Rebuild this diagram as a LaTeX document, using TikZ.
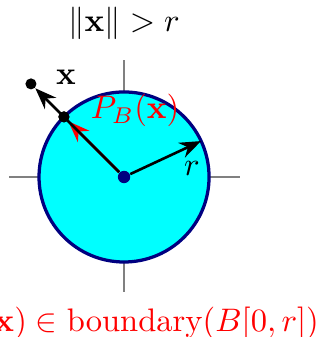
\documentclass[tikz,border=0pt]{standalone}
\usepackage{amsmath,amssymb}
\usetikzlibrary{arrows.meta, positioning}
\definecolor{navy}{rgb}{0,0,0.5}
\definecolor{aqua}{rgb}{0,1,1}

\begin{document}
\begin{tikzpicture}[>=Stealth,
    axis/.style={draw=gray, thin},
    ball/.style={draw=navy, fill=aqua, line width=1pt},
    dot/.style={circle, fill=black, inner sep=0pt, minimum size=3.4pt},
    vec/.style={->, thick}]
    \useasboundingbox (-1.338,-1.726) rectangle (2.136,1.909);

    \coordinate (west) at (-1.24,0);
    \coordinate (east) at (1.25,0);
    \coordinate (south) at (0,-1.24);
    \coordinate (north) at (0,1.26);
    \draw[axis] (west) -- (east);
    \draw[axis] (south) -- (north);

    \draw[ball] (0,0) circle (0.917);
    \node[dot, fill=navy, minimum size=3.8pt] (O) at (0,0) {};
    \coordinate (R) at (25:0.917);
    \node[dot] (P) at (135:0.917) {};
    \node[dot] (X) at (135:1.42) {};

    \draw[vec, red] (O) -- (P);
    \draw[vec] (O) -- (X);
    \draw[vec] (O) -- (R);
    \node[dot] at (P) {};

    \node[right=0.08cm of X, yshift=2pt] (xlbl) {$\mathbf{x}$};
    \node[right=0.1cm of P, yshift=2pt, red] (plbl) {$P_B(\mathbf{x})$};
    \node[below=0.1cm of R, xshift=-0.1cm] (rlbl) {$r$};
    \node[above=0.1cm of north] (cond) {$\|\mathbf{x}\| > r$};
    \node[below=0.04cm of south, xshift=0.05cm, red] (claim) {$P_B(\mathbf{x}) \in \text{boundary}(B[0,r])$};
\end{tikzpicture}
\end{document}
